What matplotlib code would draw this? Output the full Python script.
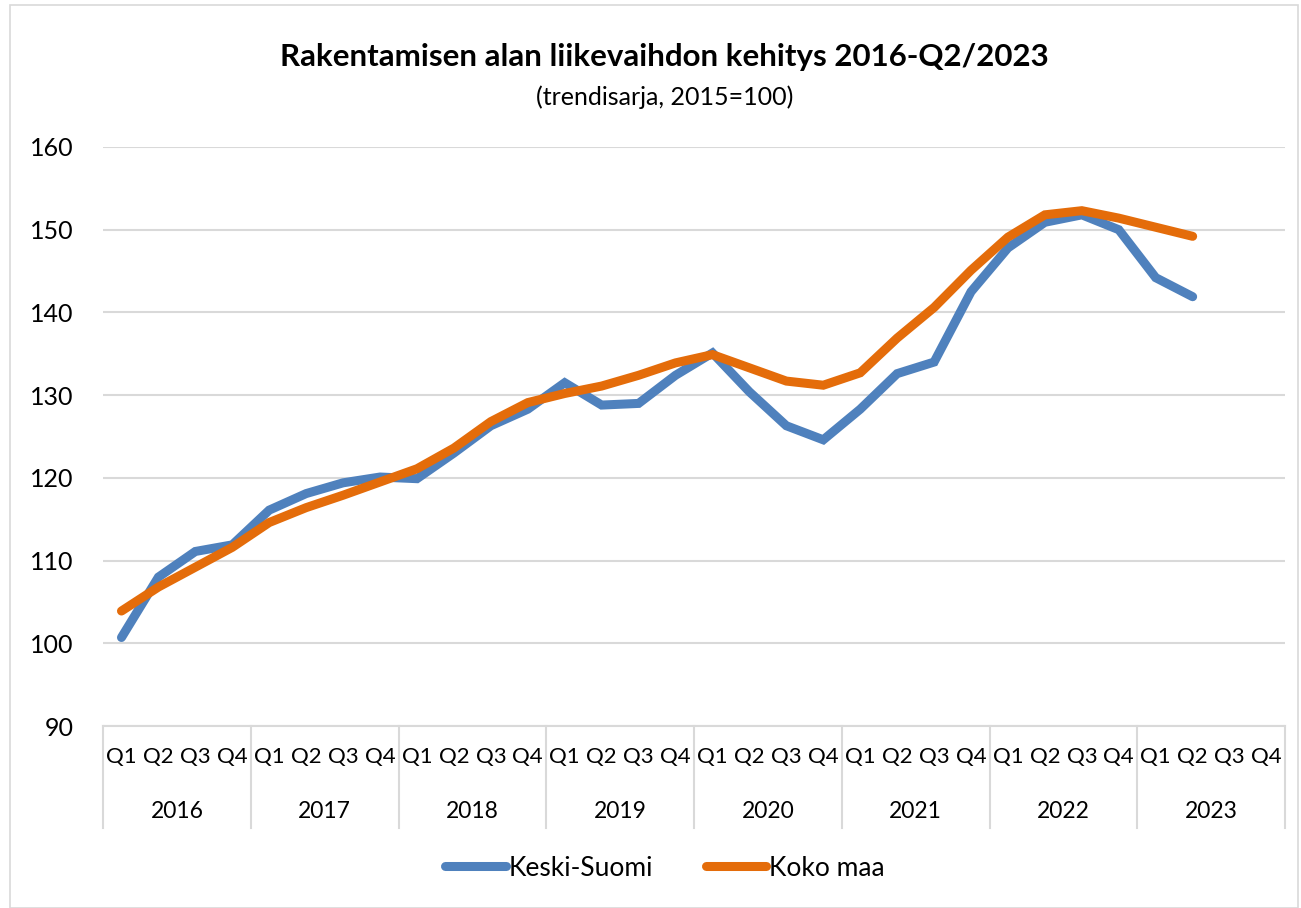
import numpy as np
import matplotlib.pyplot as plt
from matplotlib.patches import Rectangle
from matplotlib.lines import Line2D

plt.rcParams['font.family'] = ['Lato', 'DejaVu Sans']

years = ['2016', '2017', '2018', '2019', '2020', '2021', '2022', '2023']
quarters = ['Q1', 'Q2', 'Q3', 'Q4']

# Q1/2016 ... Q2/2023
keski_suomi = [100.7, 108.0, 111.1, 111.9, 116.1, 118.1, 119.4, 120.1,
               119.9, 123.0, 126.3, 128.3, 131.5, 128.8, 129.0, 132.4,
               135.1, 130.4, 126.3, 124.6, 128.3, 132.6, 134.0, 142.5,
               147.8, 150.9, 151.8, 150.0, 144.2, 141.9]
koko_maa = [103.9, 106.8, 109.2, 111.6, 114.6, 116.4, 117.9, 119.5,
            121.1, 123.6, 126.8, 129.1, 130.2, 131.1, 132.4, 133.9,
            134.9, 133.3, 131.7, 131.2, 132.7, 136.9, 140.6, 145.1,
            149.1, 151.8, 152.3, 151.4, 150.3, 149.2]

blue = '#4F81BD'
orange = '#E46C0A'
grid_col = '#D9D9D9'

fig = plt.figure(figsize=(13.01, 9.08), dpi=100)
fig.patches.append(Rectangle((0.008, 0.0), 0.99, 0.994, transform=fig.transFigure,
                             fill=False, edgecolor=grid_col, linewidth=1.2))
ax = fig.add_axes([103 / 1301, 1 - 726 / 908, (1285 - 103) / 1301, (726 - 147) / 908])

n_cat = len(years) * len(quarters)
x_ks = np.arange(len(keski_suomi))
x_km = np.arange(len(koko_maa))
ax.plot(x_ks, keski_suomi, color=blue, lw=6.5, solid_capstyle='round',
        solid_joinstyle='miter', label='Keski-Suomi', zorder=3)
ax.plot(x_km, koko_maa, color=orange, lw=6.5, solid_capstyle='round',
        solid_joinstyle='miter', label='Koko maa', zorder=4)

ax.set_xlim(-0.5, n_cat - 0.5)
ax.set_ylim(90, 160)
ax.set_yticks(np.arange(90, 161, 10))
ax.yaxis.grid(True, color=grid_col, lw=1.5)
ax.set_axisbelow(True)
for s in ['top', 'right', 'left']:
    ax.spines[s].set_visible(False)
ax.spines['bottom'].set_color(grid_col)
ax.spines['bottom'].set_linewidth(1.5)
ax.tick_params(axis='y', length=0, labelsize=18, pad=21)
ax.tick_params(axis='x', length=0, labelsize=16, pad=15)
ax.set_xticks(np.arange(n_cat))
ax.set_xticklabels(quarters * len(years))

# year group labels and dividers
tr = ax.get_xaxis_transform()
for i, yr in enumerate(years):
    ax.text(i * 4 + 1.5, -0.147, yr, transform=tr, ha='center', va='center',
            fontsize=16.5)
for i in range(len(years) + 1):
    ax.plot([i * 4 - 0.5, i * 4 - 0.5], [0, -0.176], transform=tr, color=grid_col,
            lw=1.5, clip_on=False)

fig.text(0.511, 0.937, 'Rakentamisen alan liikevaihdon kehitys 2016-Q2/2023',
         ha='center', va='center', fontsize=22.5, fontweight='bold')
fig.text(0.511, 0.893, '(trendisarja, 2015=100)', ha='center', va='center', fontsize=18)

handles = [Line2D([], [], color=blue, lw=6.5, solid_capstyle='round'),
           Line2D([], [], color=orange, lw=6.5, solid_capstyle='round')]
fig.legend(handles, ['Keski-Suomi', 'Koko maa'], loc='center', bbox_to_anchor=(0.511, 0.044),
           ncol=2, frameon=False, fontsize=19, handlelength=2.3, handletextpad=0.1,
           columnspacing=2.0)

fig.savefig('out.png', dpi=100)
